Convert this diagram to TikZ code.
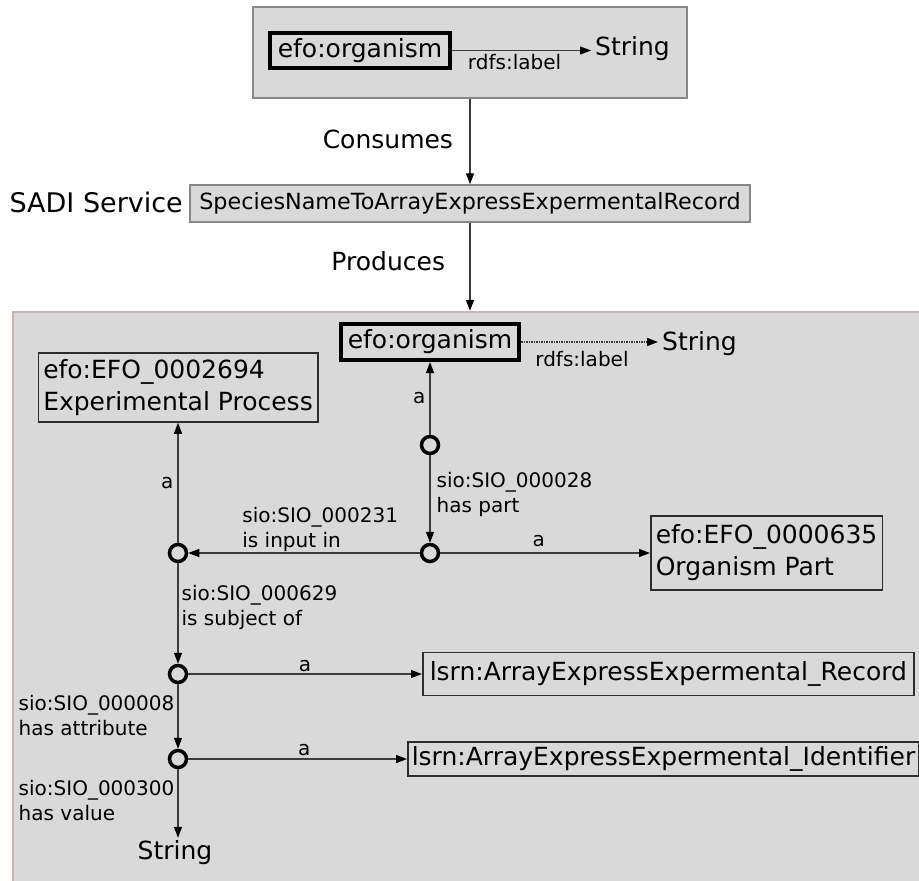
\documentclass[tikz,border=0pt]{standalone}
\usepackage{fontspec}
\setmainfont{DejaVu Sans}
\usetikzlibrary{arrows.meta}

\definecolor{panelfill}{RGB}{217,217,217}
\definecolor{panelrim}{RGB}{135,135,135}
\definecolor{outrim}{RGB}{201,180,180}
\definecolor{boxrim}{RGB}{45,45,45}
\definecolor{wirecol}{RGB}{60,60,60}

\begin{document}
\begin{tikzpicture}[x=1pt, y=-1pt,
        wire/.style={draw=wirecol, line width=1.3pt, -{Triangle[length=11pt,width=8pt,color=black]}},
        dotwire/.style={wire, dash pattern=on 1.5pt off 1pt},
        lbl/.style={font=\fontsize{20}{25}\selectfont, inner sep=1pt, align=left},
        txt/.style={font=\fontsize{25}{32}\selectfont},
        panel/.style={draw=panelrim, fill=panelfill, line width=1.5pt},
        cls/.style={txt, draw=boxrim, line width=1.5pt, align=left, inner xsep=5pt, inner ysep=3pt},
        focus/.style={txt, draw=black, line width=4pt, inner sep=0pt},
        blank/.style={circle, draw=black, fill=panelfill, line width=3.5pt, minimum size=17pt, inner sep=0pt}]
        \useasboundingbox (0,0) rectangle (919,881);

        \node[panel, minimum width=434pt, minimum height=91pt] (inbox) at (470,52.5) {};
        \node[focus, minimum width=180pt, minimum height=35pt] (inorg) at (360,50.5) {efo:organism};
        \node[txt, anchor=base west, inner xsep=4pt] (instr) at (591,55) {String};
        \draw[wire] (inorg) -- node[lbl, below=2pt, pos=.45] {rdfs:label} (inorg -| instr.west);

        \node[panel, font=\fontsize{22.3}{26}\selectfont, minimum width=560pt, minimum height=37pt, inner sep=0pt] (service) at (470,203.5) {SpeciesNameToArrayExpressExpermentalRecord};
        \node[font=\fontsize{27}{32}\selectfont, anchor=base east, inner sep=0pt] (sadi) at (183,212) {SADI Service};
        \draw[wire] (inbox) -- node[txt, left=13pt, pos=.48] {Consumes} (service);

        \node[draw=outrim, fill=panelfill, line width=2.5pt, minimum width=917pt, minimum height=588pt] (outbox) at (471.5,606) {};
        \draw[wire] (service) -- node[txt, left=21pt, pos=.44] {Produces} (service |- outbox.north);

        \node[focus, minimum width=178pt, minimum height=36pt] (org) at (430,342) {efo:organism};
        \node[txt, anchor=base west, inner xsep=4pt] (orgstr) at (658,350) {String};
        \draw[dotwire] (org) -- node[lbl, below=8pt, pos=.445] {rdfs:label} (org -| orgstr.west);

        \node[cls, minimum height=69pt] (process) at (178,387.5) {efo:EFO\_0002694\\Experimental Process};
        \node[cls, anchor=west, minimum height=74pt] (organpart) at (650,553) {efo:EFO\_0000635\\Organism Part};
        \node[cls, anchor=west, minimum height=43pt, inner xsep=7pt] (record) at (422,674) {lsrn:ArrayExpressExpermental\_Record};
        \node[cls, anchor=west, minimum height=34pt, inner xsep=4pt] (ident) at (407,759) {lsrn:ArrayExpressExpermental\_Identifier};

        \node[blank] (b1) at (430,445) {};
        \node[blank] (b2) at (430,553) {};
        \node[blank] (b3) at (178,553) {};
        \node[blank] (b4) at (178,674) {};
        \node[blank] (b5) at (178,759) {};
        \node[txt, anchor=base, inner sep=2pt] (valstr) at (175,859) {String};

        \draw[wire] (b1) -- node[lbl, left=3pt] {a} (org);
        \draw[wire] (b1) -- node[lbl, right=5pt, pos=.45] {sio:SIO\_000028\\has part} (b2);
        \draw[wire] (b2) -- node[lbl, above, pos=.43] {sio:SIO\_000231\\is input in} (b3);
        \draw[wire] (b2) -- node[lbl, above=5pt, pos=.47] {a} (organpart);
        \draw[wire] (b3) -- node[lbl, left=3pt] {a} (process);
        \draw[wire] (b3) -- node[lbl, right=2pt, pos=.44] {sio:SIO\_000629\\is subject of} (b4);
        \draw[wire] (b4) -- node[lbl, above=1pt] {a} (record);
        \draw[wire] (b4) -- node[lbl, left=2pt, pos=.48] {sio:SIO\_000008\\has attribute} (b5);
        \draw[wire] (b5) -- node[lbl, above=2pt, pos=.53] {a} (ident);
        \draw[wire] (b5) -- node[lbl, left=2pt, pos=.45] {sio:SIO\_000300\\has value} (b5 |- valstr.north);
\end{tikzpicture}
\end{document}
